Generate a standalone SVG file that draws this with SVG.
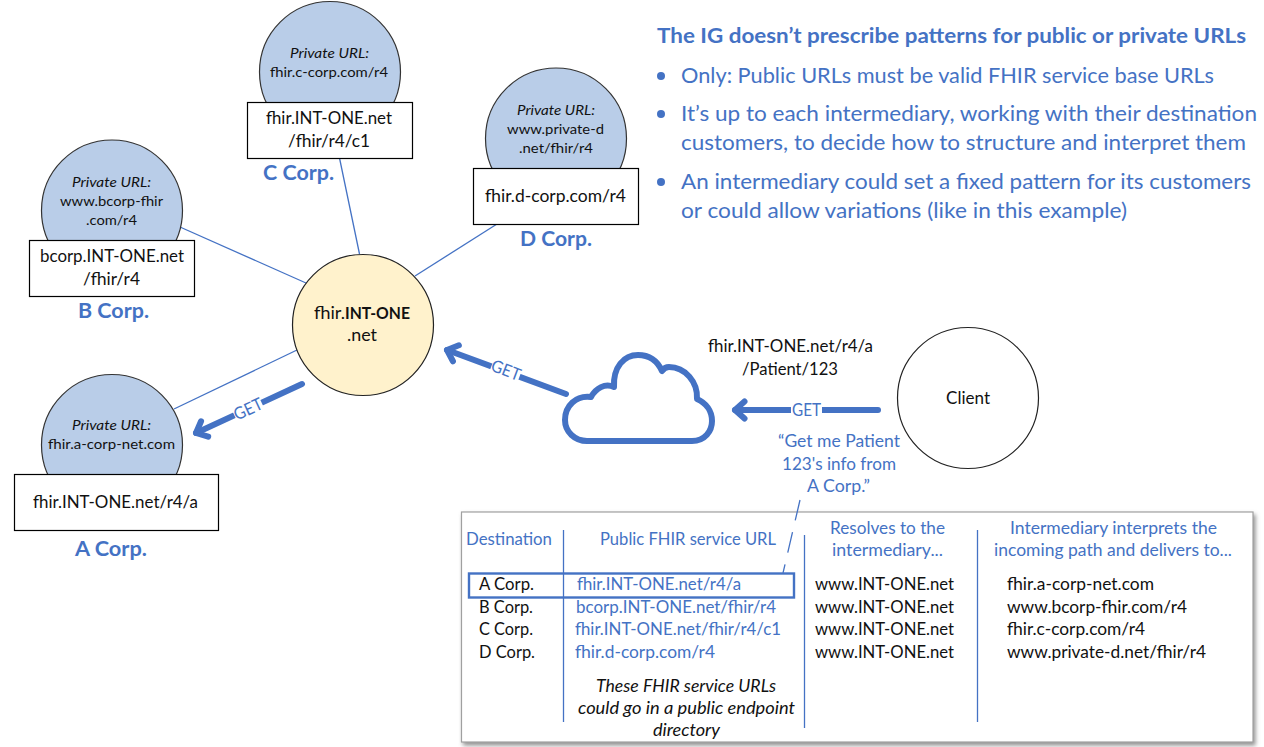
<svg xmlns="http://www.w3.org/2000/svg" width="1264" height="747" viewBox="0 0 1264 747">
<style>
text{font-family:Lato,"Liberation Sans",sans-serif;font-size:17.5px;fill:#111;white-space:pre}
.sm{font-size:14.2px}
.i{font-style:italic}
.b{font-weight:700}
.blue{fill:#4472c4}
.corp{font-size:20px;font-weight:700;fill:#4472c4}
.list{font-size:21.5px;fill:#4472c4}
.get{font-size:17px;fill:#4472c4}
.priv{fill:#b9cde8;stroke:#333;stroke-width:1.2}
.hub{fill:#fff2cc;stroke:#222;stroke-width:1.2}
.plain{fill:#fff;stroke:#222;stroke-width:1.2}
.box{fill:#fff;stroke:#000;stroke-width:1.2}
.thin{fill:none;stroke:#4472c4;stroke-width:1.3}
.thick{fill:none;stroke:#4472c4;stroke-width:6;stroke-linecap:round;marker-end:url(#chev)}
</style>
<defs>
<marker id="chev" markerUnits="userSpaceOnUse" markerWidth="30" markerHeight="30" viewBox="0 0 30 30" refX="20" refY="15" orient="auto"><path d="M10.5 6.5L20 15L10.5 23.5" fill="none" stroke="#4472c4" stroke-width="6" stroke-linecap="round" stroke-linejoin="round"/></marker>
<filter id="sh" x="-3%" y="-3%" width="107%" height="108%"><feDropShadow dx="2" dy="3" stdDeviation="2" flood-color="#777" flood-opacity="0.8"/></filter>
</defs>
<rect width="1264" height="747" fill="#fff"/>
<g id="connectors">
<line class="thin" x1="339.5" y1="158" x2="359.5" y2="254"/>
<line class="thin" x1="180" y1="227" x2="306" y2="283"/>
<line class="thin" x1="174" y1="409" x2="297" y2="350"/>
<line class="thin" x1="415" y1="276" x2="497" y2="224"/>
<line class="thick" x1="302" y1="384" x2="196" y2="433"/>
<line class="thick" x1="566" y1="394" x2="447" y2="350"/>
<line class="thick" x1="878" y1="410" x2="735" y2="410"/>
<rect x="233" y="400" width="30" height="18" fill="#fff" transform="rotate(-25 248 409)"/>
<rect x="491" y="361" width="30" height="18" fill="#fff" transform="rotate(21 506 370)"/>
<rect x="791" y="401" width="31" height="18" fill="#fff"/>
<text class="get" x="233" y="415" textLength="30" lengthAdjust="spacingAndGlyphs" transform="rotate(-25 248 409)">GET</text>
<text class="get" x="491" y="376" textLength="30" lengthAdjust="spacingAndGlyphs" transform="rotate(21 506 370)">GET</text>
<text class="get" x="792" y="416" textLength="29" lengthAdjust="spacingAndGlyphs">GET</text>
</g>
<g id="node-c">
<circle class="priv" cx="330" cy="72" r="70.5"/>
<text class="sm i" x="290" y="58" textLength="79" lengthAdjust="spacingAndGlyphs">Private URL:</text>
<text class="sm" x="270" y="77" textLength="118" lengthAdjust="spacingAndGlyphs">fhir.c-corp.com/r4</text>
<rect class="box" x="247.5" y="102.5" width="165" height="56"/>
<text x="266" y="124" textLength="126" lengthAdjust="spacingAndGlyphs">fhir.INT-ONE.net</text>
<text x="288" y="147" textLength="82" lengthAdjust="spacingAndGlyphs">/fhir/r4/c1</text>
<text class="corp" x="263" y="180" textLength="71" lengthAdjust="spacingAndGlyphs">C Corp.</text>
</g>
<g id="node-b">
<circle class="priv" cx="112" cy="210.5" r="70.5"/>
<text class="sm i" x="72" y="187" textLength="79" lengthAdjust="spacingAndGlyphs">Private URL:</text>
<text class="sm" x="60" y="206" textLength="103" lengthAdjust="spacingAndGlyphs">www.bcorp-fhir</text>
<text class="sm" x="86" y="225" textLength="51" lengthAdjust="spacingAndGlyphs">.com/r4</text>
<rect class="box" x="29.5" y="240.5" width="165" height="56"/>
<text x="40" y="262" textLength="144" lengthAdjust="spacingAndGlyphs">bcorp.INT-ONE.net</text>
<text x="83" y="285" textLength="57" lengthAdjust="spacingAndGlyphs">/fhir/r4</text>
<text class="corp" x="78" y="318" textLength="71" lengthAdjust="spacingAndGlyphs">B Corp.</text>
</g>
<g id="node-a">
<circle class="priv" cx="112" cy="445" r="70.5"/>
<text class="sm i" x="72" y="430" textLength="79" lengthAdjust="spacingAndGlyphs">Private URL:</text>
<text class="sm" x="48" y="449" textLength="127" lengthAdjust="spacingAndGlyphs">fhir.a-corp-net.com</text>
<rect class="box" x="14.5" y="474.5" width="204" height="56"/>
<text x="33" y="508" textLength="165" lengthAdjust="spacingAndGlyphs">fhir.INT-ONE.net/r4/a</text>
<text class="corp" x="75" y="556" textLength="72" lengthAdjust="spacingAndGlyphs">A Corp.</text>
</g>
<g id="node-d">
<circle class="priv" cx="556" cy="138.5" r="70.5"/>
<text class="sm i" x="517" y="115" textLength="78" lengthAdjust="spacingAndGlyphs">Private URL:</text>
<text class="sm" x="507" y="134" textLength="97" lengthAdjust="spacingAndGlyphs">www.private-d</text>
<text class="sm" x="519" y="153" textLength="74" lengthAdjust="spacingAndGlyphs">.net/fhir/r4</text>
<rect class="box" x="473.5" y="168.5" width="165" height="56"/>
<text x="485" y="202" textLength="141" lengthAdjust="spacingAndGlyphs">fhir.d-corp.com/r4</text>
<text class="corp" x="520" y="246" textLength="72" lengthAdjust="spacingAndGlyphs">D Corp.</text>
</g>
<g id="node-hub">
<circle class="hub" cx="363" cy="325" r="70.5"/>
<text x="314" y="319" textLength="31" lengthAdjust="spacingAndGlyphs">fhir.</text>
<text class="b" x="345" y="319" textLength="65" lengthAdjust="spacingAndGlyphs">INT-ONE</text>
<text x="347" y="341" textLength="30" lengthAdjust="spacingAndGlyphs">.net</text>
</g>
<g id="node-cloud">
<path d="M587 441H692C705 441 712 431 712 421C712 411 706 403 697 399C698 382 685 367 669 367C667 367 664 368 662 371C657 360 649 355 638 355C624 355 613 367 614 387C605 383 596 388 591 397C576 395 565 406 565 420C565 432 575 441 587 441Z" fill="#fff" stroke="#4472c4" stroke-width="6" stroke-linejoin="round"/>
</g>
<g id="node-client">
<circle class="plain" cx="968" cy="398" r="70.5"/>
<text x="946" y="404" textLength="44" lengthAdjust="spacingAndGlyphs">Client</text>
</g>
<g id="request-label">
<text x="708" y="352" textLength="165" lengthAdjust="spacingAndGlyphs">fhir.INT-ONE.net/r4/a</text>
<text x="742" y="375" textLength="96" lengthAdjust="spacingAndGlyphs">/Patient/123</text>
<text class="blue" x="778" y="447" textLength="122" lengthAdjust="spacingAndGlyphs">“Get me Patient</text>
<text class="blue" x="782" y="470" textLength="114" lengthAdjust="spacingAndGlyphs">123's info from</text>
<text class="blue" x="807" y="492" textLength="63" lengthAdjust="spacingAndGlyphs">A Corp.”</text>
</g>
<g id="notes">
<text class="list b" x="657" y="43" textLength="589" lengthAdjust="spacingAndGlyphs">The IG doesn’t prescribe patterns for public or private URLs</text>
<circle cx="661" cy="76" r="4" fill="#4472c4"/>
<circle cx="661" cy="114" r="4" fill="#4472c4"/>
<circle cx="661" cy="182" r="4" fill="#4472c4"/>
<text class="list" x="681" y="83" textLength="533" lengthAdjust="spacingAndGlyphs">Only: Public URLs must be valid FHIR service base URLs</text>
<text class="list" x="681" y="121" textLength="576" lengthAdjust="spacingAndGlyphs">It’s up to each intermediary, working with their destination</text>
<text class="list" x="681" y="150" textLength="565" lengthAdjust="spacingAndGlyphs">customers, to decide how to structure and interpret them</text>
<text class="list" x="681" y="189" textLength="570" lengthAdjust="spacingAndGlyphs">An intermediary could set a fixed pattern for its customers</text>
<text class="list" x="681" y="218" textLength="446" lengthAdjust="spacingAndGlyphs">or could allow variations (like in this example)</text>
</g>
<g id="table">
<rect x="461.5" y="512" width="791.5" height="230" fill="#fff" stroke="#a0a0a0" stroke-width="1.2" filter="url(#sh)"/>
<line class="thin" x1="563.5" y1="530" x2="563.5" y2="722"/>
<line class="thin" x1="804.5" y1="535" x2="804.5" y2="728"/>
<line class="thin" x1="977.5" y1="530" x2="977.5" y2="722"/>
<line class="thin" x1="800" y1="500" x2="783" y2="573" stroke-dasharray="21 12"/>
<rect x="469" y="573.5" width="325" height="24" fill="none" stroke="#4472c4" stroke-width="2.4"/>
<g class="hdr">
<text class="blue" x="466" y="545" textLength="86" lengthAdjust="spacingAndGlyphs">Destination</text>
<text class="blue" x="600" y="545" textLength="176" lengthAdjust="spacingAndGlyphs">Public FHIR service URL</text>
<text class="blue" x="830" y="534" textLength="115" lengthAdjust="spacingAndGlyphs">Resolves to the</text>
<text class="blue" x="832" y="556" textLength="111" lengthAdjust="spacingAndGlyphs">intermediary...</text>
<text class="blue" x="1010" y="534" textLength="207" lengthAdjust="spacingAndGlyphs">Intermediary interprets the</text>
<text class="blue" x="994" y="556" textLength="238" lengthAdjust="spacingAndGlyphs">incoming path and delivers to...</text>
</g>
<text x="479" y="590" textLength="55" lengthAdjust="spacingAndGlyphs">A Corp.</text>
<text x="479" y="613" textLength="54" lengthAdjust="spacingAndGlyphs">B Corp.</text>
<text x="479" y="635" textLength="54" lengthAdjust="spacingAndGlyphs">C Corp.</text>
<text x="479" y="658" textLength="56" lengthAdjust="spacingAndGlyphs">D Corp.</text>
<text class="blue" x="577" y="590" textLength="164" lengthAdjust="spacingAndGlyphs">fhir.INT-ONE.net/r4/a</text>
<text class="blue" x="576" y="613" textLength="200" lengthAdjust="spacingAndGlyphs">bcorp.INT-ONE.net/fhir/r4</text>
<text class="blue" x="575" y="635" textLength="206" lengthAdjust="spacingAndGlyphs">fhir.INT-ONE.net/fhir/r4/c1</text>
<text class="blue" x="575" y="658" textLength="140" lengthAdjust="spacingAndGlyphs">fhir.d-corp.com/r4</text>
<text x="815" y="590" textLength="139" lengthAdjust="spacingAndGlyphs">www.INT-ONE.net</text>
<text x="815" y="613" textLength="139" lengthAdjust="spacingAndGlyphs">www.INT-ONE.net</text>
<text x="815" y="635" textLength="139" lengthAdjust="spacingAndGlyphs">www.INT-ONE.net</text>
<text x="815" y="658" textLength="139" lengthAdjust="spacingAndGlyphs">www.INT-ONE.net</text>
<text x="1007" y="590" textLength="147" lengthAdjust="spacingAndGlyphs">fhir.a-corp-net.com</text>
<text x="1007" y="613" textLength="180" lengthAdjust="spacingAndGlyphs">www.bcorp-fhir.com/r4</text>
<text x="1007" y="635" textLength="138" lengthAdjust="spacingAndGlyphs">fhir.c-corp.com/r4</text>
<text x="1007" y="658" textLength="199" lengthAdjust="spacingAndGlyphs">www.private-d.net/fhir/r4</text>
<text class="i" x="596" y="692" textLength="180" lengthAdjust="spacingAndGlyphs">These FHIR service URLs</text>
<text class="i" x="578" y="714" textLength="217" lengthAdjust="spacingAndGlyphs">could go in a public endpoint</text>
<text class="i" x="653" y="736" textLength="67" lengthAdjust="spacingAndGlyphs">directory</text>
</g>
</svg>
